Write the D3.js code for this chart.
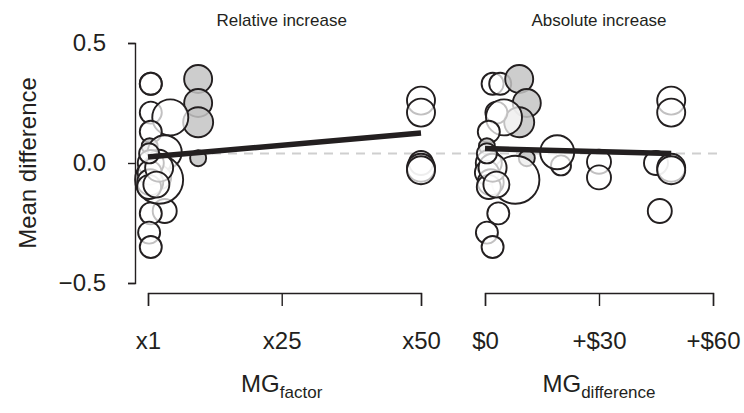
<!DOCTYPE html>
<html>
<head>
<meta charset="utf-8">
<script src="https://cdn.jsdelivr.net/npm/d3@7"></script>
<style>
  body { margin: 0; background: #fff; }
  svg { font-family: "Liberation Sans", Arial, Helvetica, sans-serif; }
  .axis path, .axis line { stroke: #231f20; stroke-width: 1.4; }
</style>
</head>
<body>
<svg id="chart"></svg>
<script>
const width = 744;
const height = 413;

// one entry per study: mean difference, marker radius, MG factor, MG difference ($), highlighted
const meanDiff = [0.33, 0.33, 0.35, 0.25, 0.17, 0.21, 0.19, 0.13, 0.07, 0.02, -0.01, 0.045, 0.005, -0.06, 0.26, 0.21, 0.0, -0.02, -0.03, -0.2, -0.21, -0.29, -0.35, -0.07, 0.0, -0.04, -0.08, -0.1, -0.02, -0.09, 0.04];
const sizes    = [11, 11, 14, 14, 15, 11, 18, 11, 8, 8, 10, 17, 12, 12, 14, 14, 12, 14, 14, 12, 11, 11, 11, 24, 13, 12, 13, 12, 14, 13, 10];
const mgFactor = [1.5, 1.5, 10, 10, 10, 1.5, 5, 1.5, 1.3, 10, 2, 4, 3, 3, 50, 50, 50, 50, 50, 4, 1.5, 1.2, 1.5, 3, 1.5, 1.3, 1.4, 1.2, 3, 2.5, 1.2];
const mgDiff   = [2, 4, 9, 11, 9, 3, 5, 1, 0.5, 11, 20, 19, 30, 30, 49, 49, 45, 49, 49, 46, 3.5, 0.5, 2, 8, 1, 0.5, 1.5, 1, 2, 3, 0.5];
const highlighted = [0, 0, 1, 1, 1, 0, 0, 0, 1, 1, 0, 0, 0, 0, 0, 0, 0, 0, 0, 0, 0, 0, 0, 0, 0, 0, 0, 0, 0, 0, 0];

const factorTicks = [1, 25, 50];
const factorLabels = ["x1", "x25", "x50"];
const diffTicks = [0, 30, 60];
const diffLabels = ["$0", "+$30", "+$60"];
const yTicks = [-0.5, 0, 0.5];

// fitted lines and overall mean
const fitFactor = [[1, 0.025], [50, 0.125]];
const fitDiff = [[0, 0.06], [49, 0.04]];
const overallMean = 0.04;

const studies = meanDiff.map((v, i) => ({
    y: v, r: sizes[i], f: mgFactor[i], d: mgDiff[i], hi: highlighted[i] === 1
}));

const svg = d3.select("#chart")
    .attr("width", width)
    .attr("height", height);

const y = d3.scaleLinear().domain([-0.5, 0.5]).range([283, 43]);
const xF = d3.scaleLinear().domain([1, 50]).range([148, 421]);
const xD = d3.scaleLinear().domain([0, 60]).range([485, 713]);

const ink = "#231f20";

// reference line at the overall mean
svg.append("line")
    .attr("x1", xF(1))
    .attr("x2", 720)
    .attr("y1", y(overallMean))
    .attr("y2", y(overallMean))
    .attr("stroke", "#cfcfcf")
    .attr("stroke-width", 2)
    .attr("stroke-dasharray", "9,7");

function drawPanel(xScale, key, fit) {
    const g = svg.append("g");
    g.selectAll("circle")
        .data(studies).enter()
        .append("circle")
        .attr("cx", d => xScale(d[key]))
        .attr("cy", d => y(d.y))
        .attr("r", d => d.r)
        .attr("fill", d => d.hi ? "#c4c4c4" : "#ffffff")
        .attr("fill-opacity", d => d.hi ? 0.85 : 0.72)
        .attr("stroke", ink)
        .attr("stroke-width", 1.9);

    g.append("line")
        .attr("x1", xScale(fit[0][0]))
        .attr("y1", y(fit[0][1]))
        .attr("x2", xScale(fit[1][0]))
        .attr("y2", y(fit[1][1]))
        .attr("stroke", ink)
        .attr("stroke-width", 5.5);
}

drawPanel(xF, "f", fitFactor);
drawPanel(xD, "d", fitDiff);

function styleAxis(g) {
    g.select(".domain").attr("fill", "none");
    g.selectAll("text")
        .attr("font-size", 24)
        .attr("font-family", "Liberation Sans, Arial, sans-serif")
        .attr("fill", ink);
}

// y axis
svg.append("g")
    .attr("class", "axis")
    .attr("transform", "translate(135,0)")
    .call(d3.axisLeft(y).tickValues(yTicks).tickSize(7).tickSizeOuter(7).tickPadding(22).tickFormat(d3.format(".1f")))
    .call(styleAxis);

// x axes
svg.append("g")
    .attr("class", "axis")
    .attr("transform", "translate(0,293)")
    .call(d3.axisBottom(xF).tickValues(factorTicks).tickSize(13).tickSizeOuter(13).tickPadding(26)
        .tickFormat((d, i) => factorLabels[i]))
    .call(styleAxis);

svg.append("g")
    .attr("class", "axis")
    .attr("transform", "translate(0,293)")
    .call(d3.axisBottom(xD).tickValues(diffTicks).tickSize(13).tickSizeOuter(13).tickPadding(26)
        .tickFormat((d, i) => diffLabels[i]))
    .call(styleAxis);

// panel titles
svg.append("text")
    .attr("x", xF(25))
    .attr("y", 26)
    .attr("text-anchor", "middle")
    .attr("font-size", 17)
    .attr("fill", ink)
    .text("Relative increase");

svg.append("text")
    .attr("x", xD(30))
    .attr("y", 26)
    .attr("text-anchor", "middle")
    .attr("font-size", 17)
    .attr("fill", ink)
    .text("Absolute increase");

// axis titles
function subTitle(x, sub) {
    const t = svg.append("text")
        .attr("x", x)
        .attr("y", 392)
        .attr("text-anchor", "middle")
        .attr("fill", ink)
        .attr("font-size", 24);
    t.append("tspan").text("MG");
    t.append("tspan").attr("font-size", 17).attr("dy", 6).text(sub);
}
subTitle(xF(25), "factor");
subTitle(xD(30), "difference");

svg.append("text")
    .attr("transform", "translate(36," + y(0) + ") rotate(-90)")
    .attr("text-anchor", "middle")
    .attr("font-size", 24)
    .attr("fill", ink)
    .text("Mean difference");
</script>
</body>
</html>
